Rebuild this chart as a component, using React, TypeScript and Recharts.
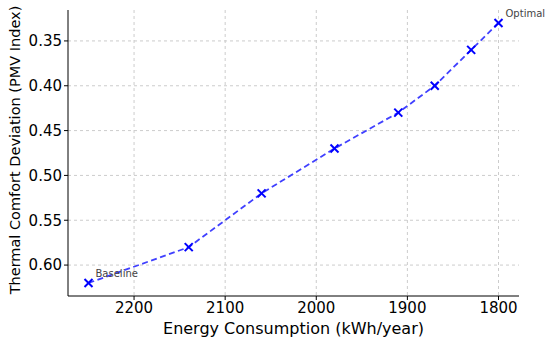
import {
  CartesianGrid,
  Label,
  LabelList,
  Line,
  LineChart,
  XAxis,
  YAxis,
} from "recharts";

const energyUse = [2250, 2140, 2060, 1980, 1910, 1870, 1830, 1800];
const pmvDeviation = [0.62, 0.58, 0.52, 0.47, 0.43, 0.4, 0.36, 0.33];
const pointNotes = ["Baseline", "", "", "", "", "", "", "Optimal"];

const xTicks = [2200, 2100, 2000, 1900, 1800];
const yTicks = [0.35, 0.4, 0.45, 0.5, 0.55, 0.6];

const data = energyUse.map((energy, i) => ({
  energy,
  pmv: pmvDeviation[i],
  note: pointNotes[i],
}));

const FONT = "'DejaVu Sans', sans-serif";

function CrossDot(props: any) {
  const { cx, cy } = props;
  if (cx == null || cy == null) return null;
  const s = 4;
  return (
    <g stroke="#0000ff" strokeWidth={2}>
      <line x1={cx - s} y1={cy - s} x2={cx + s} y2={cy + s} />
      <line x1={cx - s} y1={cy + s} x2={cx + s} y2={cy - s} />
    </g>
  );
}

function NoteLabel(props: any) {
  const { x, y, value } = props;
  if (!value) return null;
  return (
    <text x={x + 7} y={y - 6} fontSize={10} fill="#444" fontFamily={FONT}>
      {value}
    </text>
  );
}

export default function App() {
  return (
    <div style={{ position: "absolute", left: 0, top: 0, background: "#fff" }}>
      <LineChart
        width={550}
        height={338}
        data={data}
        margin={{ top: 10, right: 31, left: 0, bottom: 0 }}
      >
        <CartesianGrid
          strokeDasharray="3 3"
          stroke="#cccccc"
          horizontalValues={yTicks}
          verticalValues={xTicks}
        />
        <XAxis
          type="number"
          dataKey="energy"
          domain={[1777.5, 2272.5]}
          reversed
          ticks={xTicks}
          allowDataOverflow
          height={42}
          tick={{ fontSize: 15, fill: "#000", fontFamily: FONT }}
          tickSize={4}
          stroke="#000"
          tickMargin={2}
        >
          <Label
            value="Energy Consumption (kWh/year)"
            position="insideBottom"
            offset={4}
            style={{ fontSize: 16, fill: "#000", fontFamily: FONT }}
          />
        </XAxis>
        <YAxis
          type="number"
          dataKey="pmv"
          domain={[0.3155, 0.6345]}
          reversed
          ticks={yTicks}
          allowDataOverflow
          width={68}
          tickFormatter={(v: number) => v.toFixed(2)}
          tick={{ fontSize: 15, fill: "#000", fontFamily: FONT }}
          tickSize={4}
          stroke="#000"
          tickMargin={2}
        >
          <Label
            value="Thermal Comfort Deviation (PMV Index)"
            angle={-90}
            position="insideLeft"
            offset={15}
            dy={-3}
            style={{
              fontSize: 14.5,
              fill: "#000",
              fontFamily: FONT,
              textAnchor: "middle",
            }}
          />
        </YAxis>
        <Line
          type="linear"
          dataKey="pmv"
          stroke="#4040ff"
          strokeWidth={1.8}
          strokeDasharray="6 3.5"
          dot={<CrossDot />}
          activeDot={false}
          isAnimationActive={false}
        >
          <LabelList dataKey="note" content={<NoteLabel />} />
        </Line>
      </LineChart>
    </div>
  );
}
